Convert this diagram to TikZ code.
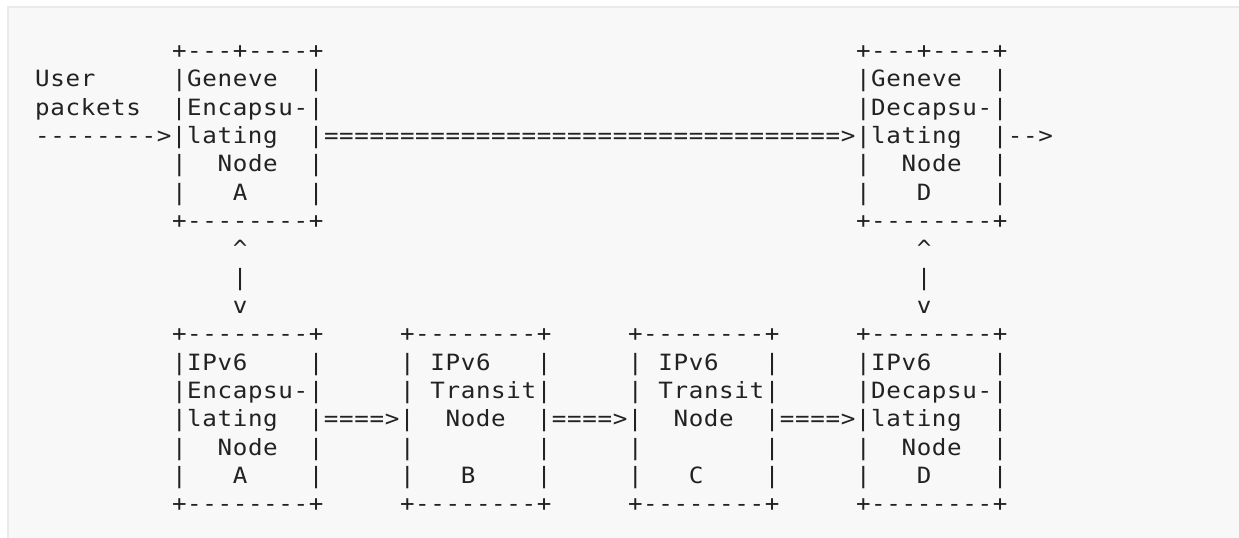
\documentclass[tikz,border=0pt]{standalone}
\usepackage{fontspec}
\newfontfamily\asciifont[FakeStretch=1.08]{DejaVu Sans Mono}
\definecolor{panelbg}{HTML}{F8F8F8}
\definecolor{panelrule}{HTML}{EAEAEA}
\definecolor{ink}{HTML}{222222}
% fixed character cell of the text grid
\newlength\cellw
\setlength\cellw{7.6pt}
% typeset a row of the drawing on a fixed grid; '.' stands for a blank cell
\ExplSyntaxOn
\NewDocumentCommand\asciirow{m}
  {
    \str_map_inline:nn {#1}
      { \makebox[\cellw][c]{ \str_if_eq:nnF {##1} {.} {##1} } }
  }
\ExplSyntaxOff
% place a row segment by name, grid column and grid row
\newcommand\asciiat[4]{%
  \node[asciitext] (#1) at ({34.9+15.2*#2},{58.4+28.33*#3}) {\asciirow{#4}};}
\begin{document}
\begin{tikzpicture}[x=0.5pt,y=-0.5pt,
  asciitext/.style={anchor=base west, inner sep=0pt, outer sep=0pt,
    font=\asciifont\fontsize{11.2pt}{13pt}\selectfont, text=ink}]
\useasboundingbox (0,0) rectangle (1239,537);
\fill[white] (0,0) rectangle (1239,537);
\begin{scope}
  \clip (0,0) rectangle (1239,537);
  \filldraw[fill=panelbg, draw=panelrule, line width=1pt] (8,7) rectangle (1260,560);
\end{scope}
% Geneve encapsulating node A with the user packet input
\asciiat{genA0}{9}{0}{+---+----+}
\asciiat{genA1}{0}{1}{User.....|Geneve..|}
\asciiat{genA2}{0}{2}{packets..|Encapsu-|}
\asciiat{genA3}{0}{3}{-------->|lating..|}
\asciiat{genA4}{9}{4}{|..Node..|}
\asciiat{genA5}{9}{5}{|...A....|}
\asciiat{genA6}{9}{6}{+--------+}
% Geneve tunnel from A to D
\asciiat{tunnel}{19}{3}{==================================>}
% Geneve decapsulating node D with the output
\asciiat{genD0}{54}{0}{+---+----+}
\asciiat{genD1}{54}{1}{|Geneve..|}
\asciiat{genD2}{54}{2}{|Decapsu-|}
\asciiat{genD3}{54}{3}{|lating..|-->}
\asciiat{genD4}{54}{4}{|..Node..|}
\asciiat{genD5}{54}{5}{|...D....|}
\asciiat{genD6}{54}{6}{+--------+}
% links between the Geneve and IPv6 layers
\asciiat{linkA7}{13}{7}{^}
\asciiat{linkA8}{13}{8}{|}
\asciiat{linkA9}{13}{9}{v}
\asciiat{linkD7}{58}{7}{^}
\asciiat{linkD8}{58}{8}{|}
\asciiat{linkD9}{58}{9}{v}
% IPv6 path A -> B -> C -> D
\asciiat{ipv6r10}{9}{10}{+--------+.....+--------+.....+--------+.....+--------+}
\asciiat{ipv6r11}{9}{11}{|IPv6....|.....|.IPv6...|.....|.IPv6...|.....|IPv6....|}
\asciiat{ipv6r12}{9}{12}{|Encapsu-|.....|.Transit|.....|.Transit|.....|Decapsu-|}
\asciiat{ipv6r13}{9}{13}{|lating..|====>|..Node..|====>|..Node..|====>|lating..|}
\asciiat{ipv6r14}{9}{14}{|..Node..|.....|........|.....|........|.....|..Node..|}
\asciiat{ipv6r15}{9}{15}{|...A....|.....|...B....|.....|...C....|.....|...D....|}
\asciiat{ipv6r16}{9}{16}{+--------+.....+--------+.....+--------+.....+--------+}
\end{tikzpicture}
\end{document}
